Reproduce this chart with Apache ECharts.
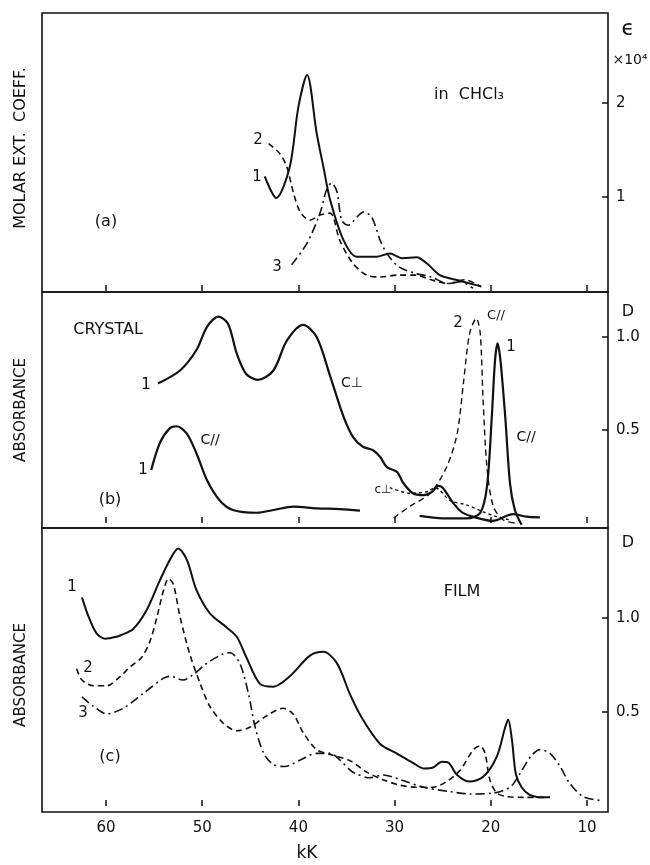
<!DOCTYPE html>
<html>
<head>
<meta charset="utf-8">
<script src="https://cdn.jsdelivr.net/npm/echarts@6/dist/echarts.min.js"></script>
<style>
  html, body { margin: 0; padding: 0; background: #fff; }
  #chart { width: 650px; height: 865px; }
</style>
</head>
<body>
<div id="chart"></div>
<script>
// x = wavenumber in kK, y = molar ext. coeff (x10^4) or absorbance D
var xTicks = [10, 20, 30, 40, 50, 60];
var yTicksA = [1, 2];
var yTicksD = [0.5, 1.0];

// (a) in CHCl3
var a1 = [[43.5,1.22],[42.3,0.99],[40.9,1.32],[40.0,1.96],[39.1,2.30],[38.1,1.68],[37.4,1.32],[36.7,0.97],
  [35.3,0.54],[33.9,0.365],[31.9,0.365],[30.5,0.40],[29.2,0.35],[27.7,0.36],[26.6,0.29],[25.3,0.17],
  [23.6,0.12],[21.0,0.05]];
var a2 = [[43.1,1.57],[41.9,1.46],[41.2,1.32],[40.5,1.04],[39.8,0.84],[38.8,0.755],[37.75,0.81],[36.7,0.83],
  [35.7,0.54],[34.3,0.29],[32.9,0.17],[31.5,0.15],[29.6,0.17],[27.9,0.17],[26.2,0.12],[24.45,0.08],
  [22.7,0.12],[21.0,0.045]];
var a3 = [[40.7,0.28],[39.1,0.51],[37.75,0.83],[37.1,1.07],[36.55,1.15],[36.0,1.06],[35.5,0.755],[34.8,0.70],
  [33.9,0.79],[33.25,0.84],[32.4,0.79],[31.5,0.54],[30.8,0.40],[29.6,0.26],[27.9,0.19],[26.2,0.15],
  [24.45,0.08],[23.1,0.10],[21.85,0.03]];

// (b) crystal
var b1Perp = [[54.6,0.75],[52.3,0.82],[50.6,0.93],[49.5,1.055],[48.3,1.11],[47.3,1.07],[46.4,0.91],[45.4,0.80],
  [44.2,0.77],[42.6,0.82],[41.2,0.98],[39.5,1.065],[38.1,1.00],[36.7,0.79],[35.3,0.57],[34.3,0.46],
  [33.3,0.41],[32.2,0.39],[31.5,0.355],[30.8,0.30],[29.75,0.275],[29.1,0.215],[28.1,0.16],[27.0,0.15],
  [26.1,0.167],[25.5,0.20],[25.0,0.19],[23.9,0.107],[22.9,0.054],[21.4,0.027],[19.8,0.011],[17.7,0.048],
  [16.3,0.034],[14.9,0.03]];
var b1ParUV = [[55.3,0.285],[54.4,0.43],[53.35,0.51],[52.65,0.52],[51.6,0.48],[50.6,0.375],[49.5,0.23],
  [48.15,0.12],[46.8,0.07],[44.3,0.055],[42.6,0.07],[40.5,0.088],[38.1,0.079],[35.7,0.075],[33.6,0.066]];
var b1ParVis = [[27.4,0.038],[25.0,0.025],[22.5,0.025],[21.1,0.054],[20.4,0.195],[19.9,0.57],[19.56,0.876],
  [19.3,0.966],[19.0,0.876],[18.5,0.57],[18.0,0.21],[17.5,0.07],[16.8,-0.01]];
var b2Par = [[30.1,0.027],[28.4,0.09],[26.3,0.16],[24.6,0.30],[23.5,0.48],[22.85,0.75],[22.2,1.02],[21.5,1.10],
  [21.1,1.02],[20.8,0.66],[20.4,0.30],[19.75,0.09],[18.7,0.016],[17.5,0.0]];
var b2Perp = [[30.5,0.19],[28.4,0.16],[26.5,0.17],[25.8,0.19],[24.2,0.12],[22.5,0.097],[20.8,0.06],
  [19.4,0.034],[18.0,0.016]];

// (c) film
var c1 = [[62.5,1.11],[61.8,1.006],[61.0,0.92],[60.1,0.89],[58.9,0.90],[58.4,0.91],[57.2,0.94],[55.8,1.04],
  [54.4,1.20],[53.35,1.31],[52.5,1.37],[51.6,1.31],[50.6,1.15],[49.2,1.025],[47.45,0.95],[46.4,0.90],
  [45.4,0.79],[44.0,0.65],[42.6,0.635],[40.9,0.69],[38.8,0.80],[37.4,0.82],[36.0,0.76],[34.6,0.59],
  [33.3,0.46],[31.5,0.33],[29.8,0.28],[28.1,0.23],[27.0,0.20],[26.0,0.205],[25.1,0.235],[24.4,0.23],
  [23.5,0.165],[22.2,0.13],[20.8,0.155],[19.4,0.26],[18.5,0.42],[18.2,0.46],[17.8,0.35],[17.4,0.17],
  [16.8,0.10],[16.0,0.06],[15.2,0.048],[13.85,0.046]];
var c2 = [[63.05,0.73],[62.5,0.67],[61.3,0.64],[59.9,0.64],[58.5,0.69],[57.5,0.74],[56.3,0.79],[55.4,0.88],
  [54.7,1.006],[54.0,1.15],[53.5,1.21],[53.0,1.18],[52.3,1.006],[51.3,0.81],[50.2,0.65],[49.2,0.53],
  [47.8,0.44],[46.4,0.40],[45.0,0.42],[43.3,0.48],[41.6,0.52],[40.55,0.49],[39.5,0.39],[38.1,0.30],
  [36.4,0.27],[34.6,0.24],[32.9,0.18],[31.2,0.14],[29.4,0.11],[27.7,0.10],[26.0,0.10],[24.6,0.13],
  [23.2,0.19],[21.8,0.30],[21.1,0.32],[20.6,0.28],[20.1,0.14],[19.4,0.07],[18.35,0.05],[16.6,0.046],
  [14.2,0.046]];
var c3 = [[62.5,0.58],[61.3,0.53],[59.9,0.49],[58.2,0.52],[56.1,0.60],[54.0,0.68],[53.35,0.69],[52.0,0.67],
  [50.9,0.70],[49.5,0.76],[47.8,0.81],[47.1,0.815],[46.1,0.76],[45.2,0.60],[44.5,0.42],[43.6,0.28],
  [42.6,0.22],[41.4,0.21],[39.8,0.245],[38.1,0.28],[36.7,0.28],[35.7,0.245],[34.6,0.19],[33.95,0.17],
  [32.6,0.15],[31.2,0.165],[29.4,0.14],[27.0,0.10],[24.2,0.076],[22.2,0.064],[19.8,0.068],[18.0,0.10],
  [17.0,0.17],[15.9,0.26],[14.9,0.30],[13.85,0.28],[12.8,0.21],[11.8,0.12],[10.4,0.05],[8.7,0.03]];

var FONT = 'DejaVu Sans';
var INK = '#111';

function xAx(idx, showLabel) {
  return {
    type: 'value', gridIndex: idx, inverse: true, min: 7.82, max: 66.65,
    axisLine: { show: false },
    axisTick: { show: true, inside: true, length: 6, customValues: xTicks, lineStyle: { color: INK, width: 1.5 } },
    axisLabel: { show: showLabel, customValues: xTicks, margin: 9, color: INK, fontSize: 15, fontFamily: FONT },
    splitLine: { show: false }
  };
}
function yAx(idx, min, max, ticks, fmt) {
  return {
    type: 'value', gridIndex: idx, position: 'right', min: min, max: max,
    axisLine: { show: false },
    axisTick: { show: true, inside: true, length: 6, customValues: ticks, lineStyle: { color: INK, width: 1.5 } },
    axisLabel: { show: true, customValues: ticks, margin: 8, color: INK, fontSize: 15, fontFamily: FONT,
      formatter: fmt },
    splitLine: { show: false }
  };
}
function line(data, xi, style, w) {
  return {
    type: 'line', data: data, xAxisIndex: xi, yAxisIndex: xi, smooth: 0.3,
    showSymbol: false, silent: true, lineStyle: { color: INK, width: w, type: style }
  };
}
function txt(s, x, y, size, opt) {
  var e = {
    type: 'text', x: x, y: y, silent: true,
    style: { text: s, fill: INK, fontSize: size, fontFamily: FONT, textAlign: 'center', textVerticalAlign: 'middle' }
  };
  if (opt) { for (var k in opt) e[k] = opt[k]; }
  return e;
}

var DASH = [6, 4];
var DOT = [3, 3];
var DASHDOT = [9, 4, 2, 4];

var chart = echarts.init(document.getElementById('chart'));
chart.setOption({
  backgroundColor: '#fff',
  animation: false,
  grid: [
    { left: 42, right: 42, top: 13, height: 279, show: true, borderColor: INK, borderWidth: 1.6 },
    { left: 42, right: 42, top: 292, height: 236, show: true, borderColor: INK, borderWidth: 1.6 },
    { left: 42, right: 42, top: 528, height: 284, show: true, borderColor: INK, borderWidth: 1.6 }
  ],
  xAxis: [xAx(0, false), xAx(1, false), xAx(2, true)],
  yAxis: [
    yAx(0, -0.01, 2.96, yTicksA, function (v) { return String(v); }),
    yAx(1, -0.027, 1.242, yTicksD, function (v) { return v.toFixed(1); }),
    yAx(2, -0.032, 1.479, yTicksD, function (v) { return v.toFixed(1); })
  ],
  series: [
    line(a1, 0, 'solid', 2), line(a2, 0, DASH, 1.6), line(a3, 0, DASHDOT, 1.6),
    line(b1Perp, 1, 'solid', 2.2), line(b1ParUV, 1, 'solid', 2.2), line(b1ParVis, 1, 'solid', 2.2),
    line(b2Par, 1, DASH, 1.4), line(b2Perp, 1, DOT, 1.4),
    line(c1, 2, 'solid', 2), line(c2, 2, DASH, 1.6), line(c3, 2, DASHDOT, 1.6)
  ],
  graphic: [
    // left titles
    txt('MOLAR EXT.  COEFF.', 21, 148, 16, { rotation: Math.PI / 2 }),
    txt('ABSORBANCE', 21, 410, 15, { rotation: Math.PI / 2 }),
    txt('ABSORBANCE', 21, 675, 15, { rotation: Math.PI / 2 }),
    // right axis units
    txt('ϵ', 628, 30, 21),
    txt('×10⁴', 630, 60, 14),
    txt('D', 628, 312, 16),
    txt('D', 628, 543, 16),
    // panel (a)
    txt('in  CHCl₃', 469, 95, 16),
    txt('2', 258, 140, 15), txt('1', 257, 177, 15), txt('3', 277, 267, 15),
    txt('(a)', 106, 222, 16),
    // panel (b)
    txt('CRYSTAL', 108, 330, 16),
    txt('1', 146, 385, 15), txt('C//', 210, 440, 14), txt('1', 143, 470, 15),
    txt('(b)', 110, 500, 16),
    txt('C⊥', 352, 383, 14),
    txt('2', 458, 323, 15), txt('C//', 496, 316, 13), txt('1', 511, 347, 15),
    txt('C//', 526, 437, 14),
    txt('c⊥', 383, 490, 12),
    // panel (c)
    txt('FILM', 462, 592, 16),
    txt('1', 72, 587, 15), txt('2', 88, 668, 15), txt('3', 83, 713, 15),
    txt('(c)', 110, 757, 16),
    // x axis title
    txt('kK', 307, 854, 17)
  ]
});
</script>
</body>
</html>
